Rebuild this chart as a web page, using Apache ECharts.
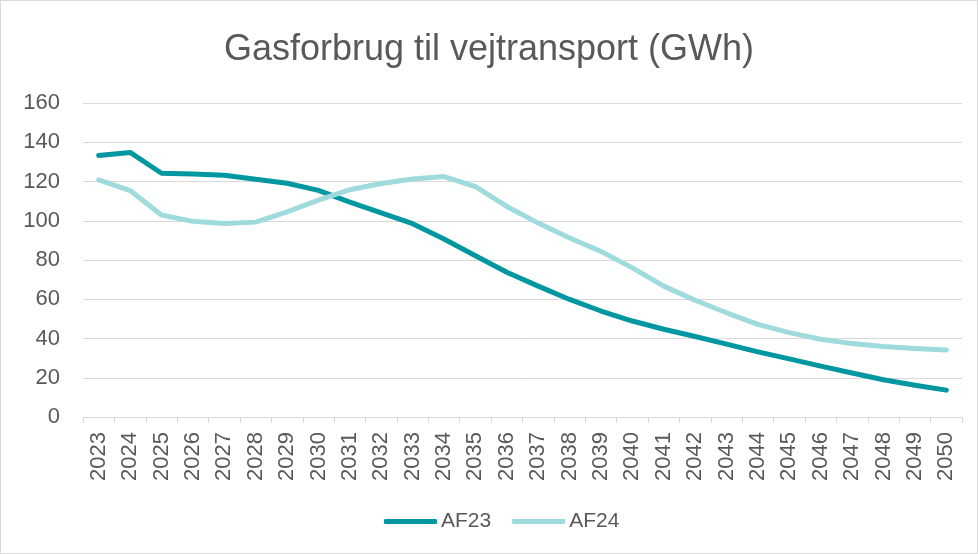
<!DOCTYPE html>
<html lang="da">
  <head>
    <meta charset="UTF-8" />
    <title>Gasforbrug til vejtransport</title>
    <script src="https://cdn.jsdelivr.net/npm/echarts@6/dist/echarts.min.js"></script>
    <style>
      html, body { margin: 0; padding: 0; background: #fff; }
      #chart { width: 978px; height: 554px; box-sizing: border-box; border: 1px solid #d9d9d9; }
    </style>
  </head>
  <body>
    <div id="chart"></div>
    <script>
      var years = [];
      for (var y = 2023; y <= 2050; y++) years.push(String(y));

      var af23 = [133.3, 134.8, 124.2, 123.8, 123.2, 121.2, 119.1, 115.5, 109.5, 104, 98.5, 90.7, 82.2,
        73.8, 66.7, 59.9, 54, 48.9, 44.7, 41, 37.1, 33.2, 29.6, 25.9, 22.4, 19, 16.2, 13.7];
      var af24 = [120.8, 115.4, 102.9, 99.7, 98.6, 99.3, 104.5, 110.5, 115.8, 119, 121.3, 122.5, 117.4,
        107.3, 98.8, 91.2, 84.4, 76, 66.7, 59.5, 53.1, 47.2, 43, 39.6, 37.4, 35.9, 34.9, 34.2];

      var chart = echarts.init(document.getElementById('chart'));
      var font = 'Liberation Sans, Arial, sans-serif';

      chart.setOption({
        animation: false,
        title: {
          text: 'Gasforbrug til vejtransport (GWh)',
          left: 'center',
          top: 31,
          padding: 0,
          textStyle: { fontFamily: font, fontSize: 36, fontWeight: 'normal', color: '#595959' }
        },
        grid: { left: 82, right: 15, top: 102, bottom: 136 },
        legend: {
          top: 510,
          left: 383,
          padding: 0,
          itemWidth: 53,
          itemHeight: 5,
          itemGap: 21,
          icon: 'roundRect',
          textStyle: { fontFamily: font, fontSize: 21, color: '#595959', padding: [0, 0, 0, -1] },
          data: ['AF23', 'AF24']
        },
        xAxis: {
          type: 'category',
          data: years,
          boundaryGap: true,
          axisLine: { lineStyle: { color: '#d9d9d9', width: 1 } },
          axisTick: { show: true, alignWithLabel: false, length: 6, lineStyle: { color: '#d9d9d9' } },
          axisLabel: { rotate: 90, interval: 0, margin: 15, fontFamily: font, fontSize: 22, color: '#595959' }
        },
        yAxis: {
          type: 'value',
          min: 0,
          max: 160,
          interval: 20,
          axisLine: { show: false },
          axisTick: { show: false },
          axisLabel: { margin: 23, fontFamily: font, fontSize: 22, color: '#595959' },
          splitLine: { lineStyle: { color: '#d9d9d9', width: 1 } }
        },
        series: [
          {
            name: 'AF23',
            type: 'line',
            data: af23,
            symbol: 'none',
            lineStyle: { color: '#0097a0', width: 5, cap: 'round', join: 'round' },
            itemStyle: { color: '#0097a0' }
          },
          {
            name: 'AF24',
            type: 'line',
            data: af24,
            symbol: 'none',
            lineStyle: { color: '#9fdadd', width: 5, cap: 'round', join: 'round' },
            itemStyle: { color: '#9fdadd' }
          }
        ]
      });
    </script>
  </body>
</html>
